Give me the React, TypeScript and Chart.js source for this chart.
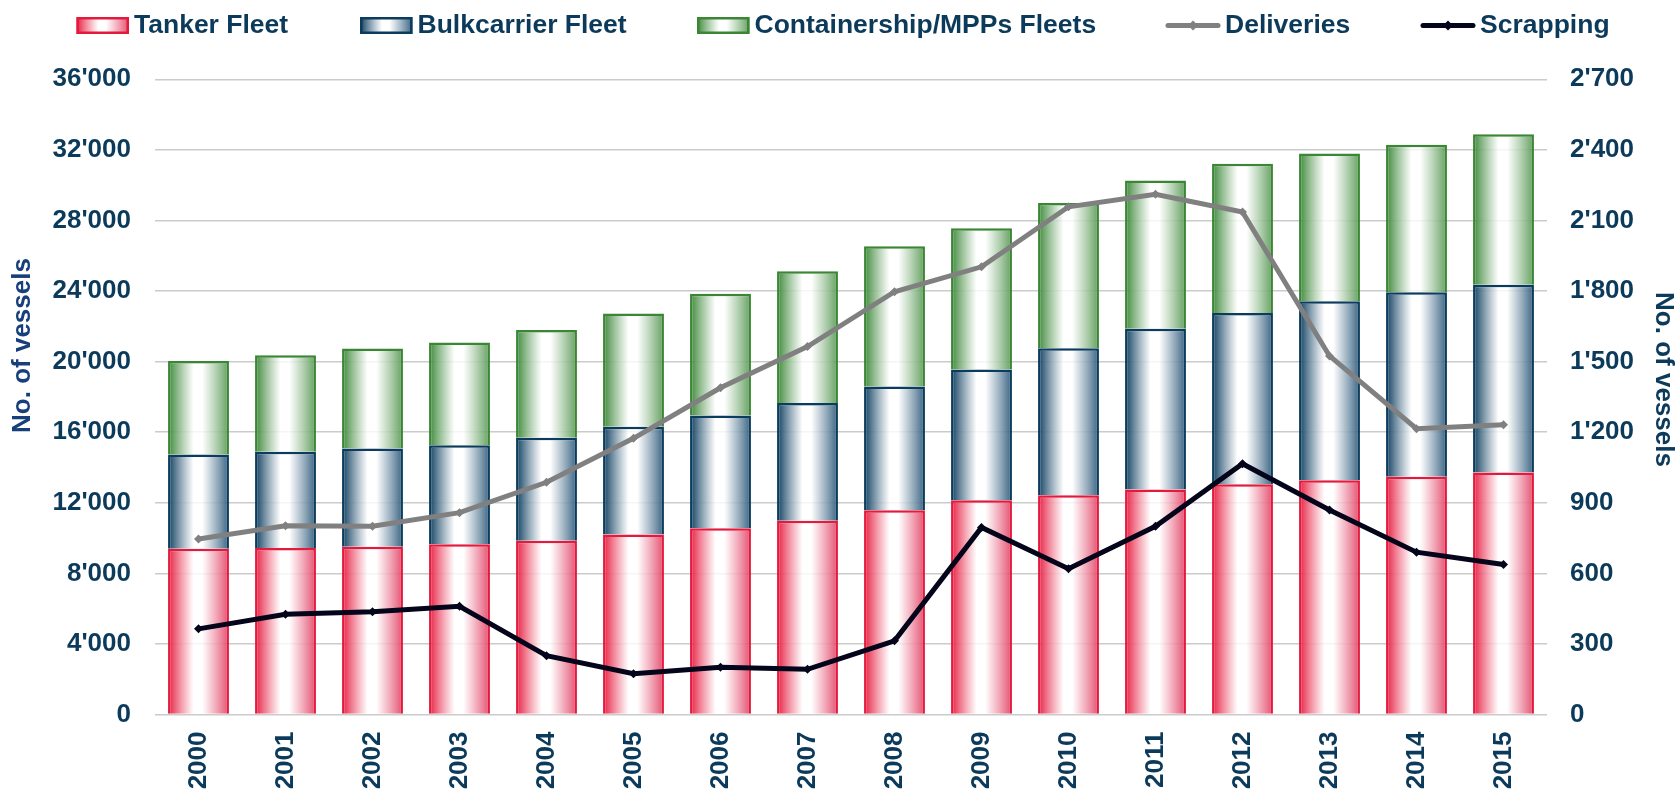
import React, { useEffect, useRef } from 'react';
import { Chart, registerables } from 'chart.js';

Chart.register(...registerables);

// ---------- DATA ----------
const YEARS = ['2000', '2001', '2002', '2003', '2004', '2005', '2006', '2007', '2008', '2009', '2010', '2011', '2012', '2013', '2014', '2015'];
const TANKER = [9400, 9430, 9510, 9650, 9850, 10200, 10550, 10980, 11580, 12140, 12420, 12750, 13050, 13280, 13470, 13720];
const BULK = [5330, 5460, 5570, 5610, 5830, 6110, 6390, 6680, 7010, 7410, 8340, 9110, 9710, 10140, 10460, 10630];
const CONTAINER = [5310, 5470, 5660, 5830, 6110, 6410, 6900, 7460, 7950, 8010, 8230, 8410, 8460, 8380, 8360, 8530];
const DELIVERIES = [746, 802, 800, 858, 987, 1174, 1389, 1564, 1797, 1903, 2158, 2211, 2136, 1524, 1215, 1232];
const SCRAPPING = [364, 426, 437, 460, 250, 173, 201, 192, 313, 795, 620, 800, 1066, 869, 690, 638];

const SERIES_NAMES = ['Tanker Fleet', 'Bulkcarrier Fleet', 'Containership/MPPs Fleets', 'Deliveries', 'Scrapping'];
const AXIS_TITLE = 'No. of vessels';
const LEFT_MAX = 36000;
const LEFT_STEP = 4000;
const RIGHT_MAX = 2700;
const RIGHT_STEP = 300;

// ---------- STYLE / LAYOUT ----------
const FONT = '"Liberation Sans", Arial, Helvetica, sans-serif';
const TEXT = '#0C3A5B';
const TITLE_LEFT = '#173F7C';
const GRID = 'rgba(200,200,200,0.95)';
const BAR_W = 0.7;

const RED = { c0: 'rgba(230,22,58,0.97)', c1: 'rgba(226,64,100,0.92)', border: '#E31A3D' };
const NAVY = { c0: 'rgba(8,58,92,0.98)', c1: 'rgba(40,86,120,0.92)', border: '#0B3C5D' };
const GREEN = { c0: 'rgba(54,132,50,0.97)', c1: 'rgba(86,152,82,0.92)', border: '#3A8634' };
const GRAY = '#808080';
const BLACK = '#04051A';

const LEGEND_X = [76.5, 360, 697, 1166, 1421];
const LEGEND_W = [52.5, 52.5, 52.5, 54, 54];
const LEGEND_CY = 25.5;
const LEGEND_BOX_H = 17;

function addStops(g: CanvasGradient, c: { c0: string; c1: string }) {
  g.addColorStop(0, c.c0);
  g.addColorStop(0.42, 'rgba(255,255,255,0.82)');
  g.addColorStop(0.56, 'rgba(255,255,255,0.82)');
  g.addColorStop(1, c.c1);
}

function barGradient(c: { c0: string; c1: string }) {
  return (ctx: any) => {
    const chart = ctx.chart;
    const xs = chart.scales && chart.scales.x;
    const area = chart.chartArea;
    if (!xs || !area || ctx.dataIndex == null) return c.c0;
    const cx = xs.getPixelForValue(ctx.dataIndex);
    const w = ((area.right - area.left) / YEARS.length) * BAR_W;
    if (!isFinite(cx) || !isFinite(w)) return c.c0;
    const g = chart.ctx.createLinearGradient(cx - w / 2, 0, cx + w / 2, 0);
    addStops(g, c);
    return g;
  };
}

function fmt(v: number) {
  if (v >= 1000) {
    const th = Math.floor(v / 1000);
    const r = Math.round(v % 1000);
    return th + "'" + String(r).padStart(3, '0');
  }
  return String(v);
}

const decorPlugin = {
  id: 'decor',
  afterDraw(chart: any) {
    const ctx: CanvasRenderingContext2D = chart.ctx;
    ctx.save();
    ctx.font = 'bold 26.5px ' + FONT;
    ctx.textBaseline = 'middle';
    ctx.textAlign = 'left';
    const fills = [RED, NAVY, GREEN];
    const bh = LEGEND_BOX_H;
    SERIES_NAMES.forEach((name, i) => {
      const x = LEGEND_X[i];
      const w = LEGEND_W[i];
      if (i < 3) {
        const c = fills[i];
        const g = ctx.createLinearGradient(x, 0, x + w, 0);
        addStops(g, c);
        ctx.fillStyle = '#fff';
        ctx.fillRect(x, LEGEND_CY - bh / 2, w, bh);
        ctx.fillStyle = g;
        ctx.fillRect(x, LEGEND_CY - bh / 2, w, bh);
        ctx.strokeStyle = c.border;
        ctx.lineWidth = 2.5;
        ctx.strokeRect(x + 1.25, LEGEND_CY - bh / 2 + 1.25, w - 2.5, bh - 2.5);
      } else {
        const col = i === 3 ? GRAY : BLACK;
        ctx.strokeStyle = col;
        ctx.lineWidth = 5;
        ctx.lineCap = 'round';
        ctx.beginPath();
        ctx.moveTo(x + 2, LEGEND_CY);
        ctx.lineTo(x + w - 2, LEGEND_CY);
        ctx.stroke();
        const mx = x + w / 2;
        ctx.fillStyle = col;
        ctx.beginPath();
        ctx.moveTo(mx, LEGEND_CY - 5);
        ctx.lineTo(mx + 5, LEGEND_CY);
        ctx.lineTo(mx, LEGEND_CY + 5);
        ctx.lineTo(mx - 5, LEGEND_CY);
        ctx.closePath();
        ctx.fill();
      }
      ctx.fillStyle = TEXT;
      ctx.fillText(name, x + w + 5, LEGEND_CY);
    });

    // axis titles
    ctx.font = 'bold 26px ' + FONT;
    ctx.textAlign = 'center';
    ctx.textBaseline = 'middle';
    ctx.save();
    ctx.translate(23, 345.5);
    ctx.rotate(-Math.PI / 2);
    ctx.fillStyle = TITLE_LEFT;
    ctx.fillText(AXIS_TITLE, 0, 0);
    ctx.restore();
    ctx.save();
    ctx.translate(1663, 379.5);
    ctx.rotate(Math.PI / 2);
    ctx.fillStyle = TEXT;
    ctx.fillText(AXIS_TITLE, 0, 0);
    ctx.restore();
    ctx.restore();
  },
};

export default function App() {
  const ref = useRef<HTMLCanvasElement>(null);
  useEffect(() => {
    if (!ref.current) return;
    const tickFont = { family: FONT, size: 26, weight: 'bold' as const };
    const chart = new Chart(ref.current, {
      type: 'bar',
      data: {
        labels: YEARS,
        datasets: [
          {
            type: 'bar',
            label: SERIES_NAMES[0],
            data: TANKER,
            backgroundColor: barGradient(RED),
            borderColor: RED.border,
            borderWidth: 2.5,
            yAxisID: 'y',
            stack: 'fleet',
            order: 1,
          },
          {
            type: 'bar',
            label: SERIES_NAMES[1],
            data: BULK,
            backgroundColor: barGradient(NAVY),
            borderColor: NAVY.border,
            borderWidth: 2.5,
            yAxisID: 'y',
            stack: 'fleet',
            order: 1,
          },
          {
            type: 'bar',
            label: SERIES_NAMES[2],
            data: CONTAINER,
            backgroundColor: barGradient(GREEN),
            borderColor: GREEN.border,
            borderWidth: 2.5,
            yAxisID: 'y',
            stack: 'fleet',
            order: 1,
          },
          {
            type: 'line',
            label: SERIES_NAMES[3],
            data: DELIVERIES,
            borderColor: GRAY,
            backgroundColor: GRAY,
            borderWidth: 5,
            pointStyle: 'rectRot',
            pointRadius: 4.5,
            pointBorderWidth: 0,
            tension: 0,
            yAxisID: 'y1',
            order: 0,
          },
          {
            type: 'line',
            label: SERIES_NAMES[4],
            data: SCRAPPING,
            borderColor: BLACK,
            backgroundColor: BLACK,
            borderWidth: 5,
            pointStyle: 'rectRot',
            pointRadius: 4.5,
            pointBorderWidth: 0,
            tension: 0,
            yAxisID: 'y1',
            order: 0,
          },
        ] as any,
      },
      options: {
        animation: false,
        responsive: false,
        maintainAspectRatio: false,
        layout: { padding: { top: 79.3, left: 0, right: 0, bottom: 0 } },
        plugins: {
          legend: { display: false },
          tooltip: { enabled: false },
        },
        datasets: {
          bar: { barPercentage: BAR_W, categoryPercentage: 1 },
        },
        scales: {
          x: {
            stacked: true,
            grid: { display: false, drawTicks: false },
            border: { display: false },
            ticks: {
              color: TEXT,
              font: tickFont,
              minRotation: 90,
              maxRotation: 90,
              padding: 17,
              autoSkip: false,
            },
            afterFit: (s: any) => {
              s.height = 77.5;
            },
          },
          y: {
            position: 'left',
            stacked: true,
            min: 0,
            max: LEFT_MAX,
            grid: { color: GRID, lineWidth: 1.5, drawTicks: false },
            border: { display: false },
            ticks: {
              stepSize: LEFT_STEP,
              color: TEXT,
              font: tickFont,
              padding: 24,
              callback: (v: any) => fmt(Number(v)),
            },
            afterFit: (s: any) => {
              s.width = 155;
            },
          },
          y1: {
            position: 'right',
            min: 0,
            max: RIGHT_MAX,
            grid: { display: false, drawTicks: false },
            border: { display: false },
            ticks: {
              stepSize: RIGHT_STEP,
              color: TEXT,
              font: tickFont,
              padding: 23,
              callback: (v: any) => fmt(Number(v)),
            },
            afterFit: (s: any) => {
              s.width = 130;
            },
          },
        },
      } as any,
      plugins: [decorPlugin],
    });
    return () => chart.destroy();
  }, []);

  return (
    <div style={{ position: 'fixed', left: 0, top: 0, width: 1677, height: 792, background: '#fff' }}>
      <canvas ref={ref} width={1677} height={792} style={{ display: 'block', width: 1677, height: 792 }} />
    </div>
  );
}
